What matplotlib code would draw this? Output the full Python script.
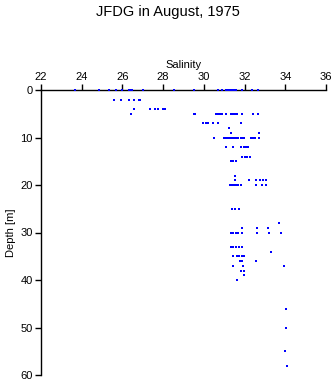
import matplotlib
matplotlib.use("Agg")
import matplotlib.pyplot as plt

title = "JFDG in August, 1975"
xlabel = "Salinity"
ylabel = "Depth [m]"
xticks = [22, 24, 26, 28, 30, 32, 34, 36]
yticks = [0, 10, 20, 30, 40, 50, 60]

salinity = [
    23.67, 24.87, 25.34, 25.68, 26.0, 26.34, 26.4, 26.45, 27.03, 28.55, 29.53, 30.71, 30.87,
    31.09, 31.2, 31.3, 31.4, 31.5, 31.6, 31.87, 32.36, 32.66,
    25.59, 25.95, 26.3, 26.58, 26.8, 26.86,
    26.58, 27.34, 27.6, 27.75, 28.0, 28.1,
    26.44, 29.5, 29.57, 30.6, 30.7, 30.8, 30.9, 31.09, 31.32, 31.42, 31.52, 31.64, 31.87, 32.41, 32.67,
    29.97, 30.1, 30.2, 30.46, 30.68, 31.84,
    31.25,
    31.32, 32.69,
    30.52, 31.0, 31.1, 31.2, 31.3, 31.4, 31.5, 31.6, 31.7, 31.8, 31.9, 31.99, 32.31, 32.4, 32.51, 32.71,
    31.09, 31.45, 31.82, 31.95, 32.05, 32.18,
    31.87, 32.0, 32.1, 32.27,
    31.33, 31.45, 31.6,
    31.54,
    31.54, 32.23, 32.57, 32.76, 32.9, 33.04,
    31.28, 31.4, 31.5, 31.6, 31.7, 31.82, 32.57, 32.84, 33.05,
    31.4, 31.55, 31.74,
    33.71,
    31.87, 32.62, 33.16,
    31.33, 31.45, 31.6, 31.7, 31.89, 32.62, 33.21, 33.8,
    31.33, 31.45, 31.56, 31.74, 31.86,
    33.31,
    31.45, 31.65, 31.75, 31.85, 31.99,
    31.77, 31.89, 32.57,
    31.45, 31.91, 33.95,
    31.82, 31.99,
    31.95,
    31.65,
    34.05,
    34.05,
    34.0,
    34.08,
]
depth = (
    [0] * 22 + [2] * 6 + [4] * 6 + [5] * 15 + [7] * 6 + [8] * 1 + [9] * 2 + [10] * 16
    + [12] * 6 + [14] * 4 + [15] * 3 + [18] * 1 + [19] * 6 + [20] * 9 + [25] * 3
    + [28] * 1 + [29] * 3 + [30] * 8 + [33] * 5 + [34] * 1 + [35] * 5 + [36] * 3
    + [37] * 3 + [38] * 2 + [39] * 1 + [40] * 1 + [46] + [50] + [55] + [58]
)

plt.rcParams['font.family'] = ['Liberation Sans', 'DejaVu Sans']
fig = plt.figure(figsize=(3.35, 3.84), dpi=100)
ax = fig.add_axes([41 / 335, 1 - 375 / 384, 285 / 335, 285 / 384])
ax.plot(salinity, depth, linestyle='none', marker='s', markersize=2.0,
        markeredgewidth=0, color='#0000ff', clip_on=False, zorder=5)
ax.set_xlim(22, 36)
ax.set_ylim(60, 0)
ax.set_xticks(xticks)
ax.set_yticks(yticks)
ax.xaxis.set_ticks_position('top')
ax.xaxis.set_label_position('top')
ax.spines['right'].set_visible(False)
ax.spines['bottom'].set_visible(False)
for s in ('top', 'left'):
    ax.spines[s].set_linewidth(1.0)
    ax.spines[s].set_zorder(1)
ax.tick_params(axis='both', direction='out', length=4, width=1.0, labelsize=8, pad=2)
ax.set_xlabel(xlabel, fontsize=8, labelpad=3)
ax.set_ylabel(ylabel, fontsize=8, labelpad=3)
fig.text(0.5, 1 - 12 / 384, title, ha='center', va='center', fontsize=10.5)
fig.savefig('out.png', dpi=100)
